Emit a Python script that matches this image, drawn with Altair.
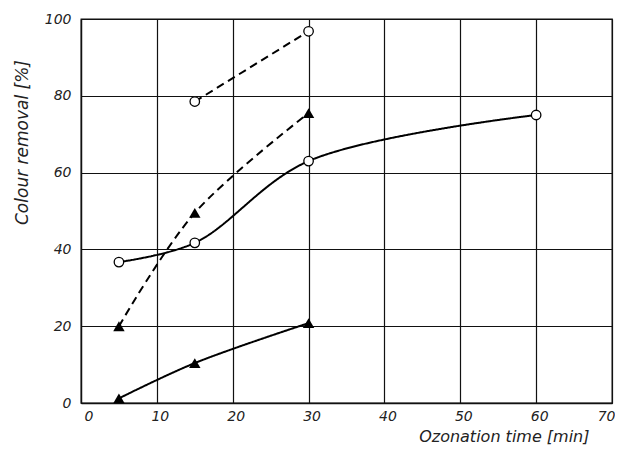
import altair as alt
import pandas as pd

# Series
t_dash_circle = [15, 30]
v_dash_circle = [78.5, 96.8]
t_dash_tri = [5, 15, 30]
v_dash_tri = [20, 49.5, 75.5]
t_solid_circle = [5, 15, 30, 60]
v_solid_circle = [36.7, 41.7, 63, 75]
t_solid_tri = [5, 15, 30]
v_solid_tri = [1.2, 10.4, 20.8]

x_ticks = [0, 10, 20, 30, 40, 50, 60, 70]
y_ticks = [0, 20, 40, 60, 80, 100]

rows = []
for name, ts, vs, dash, shape in [
    ("A", t_dash_circle, v_dash_circle, "dashed", "circle"),
    ("B", t_dash_tri, v_dash_tri, "dashed", "triangle"),
    ("C", t_solid_circle, v_solid_circle, "solid", "circle"),
    ("D", t_solid_tri, v_solid_tri, "solid", "triangle"),
]:
    for t, v in zip(ts, vs):
        rows.append({"series": name, "t": t, "v": v, "dash": dash, "shape": shape})
df = pd.DataFrame(rows)

FONT = "DejaVu Sans"

x_enc = alt.X(
    "t:Q",
    scale=alt.Scale(domain=[0, 70], nice=False, zero=False),
    axis=alt.Axis(
        values=x_ticks, title="Ozonation time [min]", ticks=False,
        labelOffset=3, labelPadding=6, labelFlush=True,
        labelFont=FONT, labelFontStyle="italic", labelFontSize=14, labelColor="#222",
        titleFont=FONT, titleFontStyle="italic", titleFontWeight="normal", titleFontSize=16,
        titleColor="#222", titleAnchor="end", titleAlign="right", titleX=508, titleY=33,
        titleBaseline="middle",
        grid=True, gridColor="#111", gridWidth=1.2, gridOpacity=1,
        domainColor="#111", domainWidth=1.3,
    ),
)
y_enc = alt.Y(
    "v:Q",
    scale=alt.Scale(domain=[0, 100], nice=False),
    axis=alt.Axis(
        values=y_ticks, title="Colour removal [%]", ticks=False,
        labelPadding=10,
        labelFont=FONT, labelFontStyle="italic", labelFontSize=14, labelColor="#222",
        titleFont=FONT, titleFontStyle="italic", titleFontWeight="normal", titleFontSize=17,
        titleColor="#222", titleAngle=-90, titleX=-59, titleY=123, titleAlign="center",
        titleBaseline="middle",
        grid=True, gridColor="#111", gridWidth=1.2, gridOpacity=1,
        domainColor="#111", domainWidth=1.3,
    ),
)

lines = alt.Chart(df).mark_line(interpolate="catmull-rom", color="black", strokeWidth=2).encode(
    x=x_enc, y=y_enc, detail="series:N",
    strokeDash=alt.StrokeDash("dash:N", scale=alt.Scale(domain=["dashed", "solid"], range=[[8, 5], [1, 0]]), legend=None),
)

circles = alt.Chart(df).transform_filter(alt.datum.shape == "circle").mark_point(
    shape="circle", filled=True, fill="white", stroke="black", strokeWidth=1.3, size=90, opacity=1
).encode(x="t:Q", y="v:Q")

triangles = alt.Chart(df).transform_filter(alt.datum.shape == "triangle").mark_point(
    shape="triangle-up", filled=True, color="black", size=130, opacity=1
).encode(x="t:Q", y="v:Q")

chart = alt.layer(lines, circles, triangles).properties(
    width=531, height=384,
    autosize=alt.AutoSizeParams(type="none"),
    padding={"left": 73, "top": 11, "right": 3, "bottom": 43},
    background="white",
).configure_view(stroke="#111", strokeWidth=1.3)

chart.save("out.html", embed_options={"renderer": "svg", "actions": False})
